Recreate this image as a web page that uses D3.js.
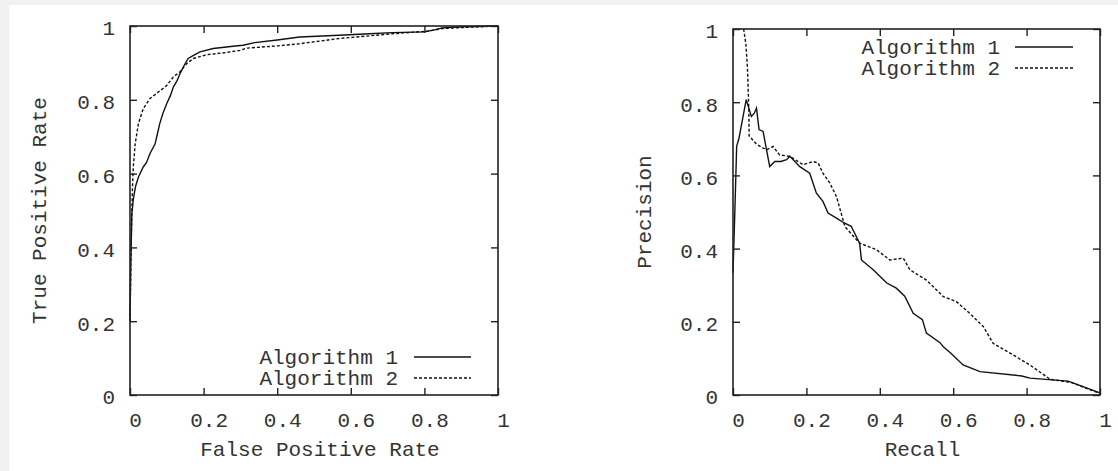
<!DOCTYPE html>
<html><head><meta charset="utf-8">
<script src="https://cdn.jsdelivr.net/npm/d3@7"></script>
<style>
html,body{margin:0;padding:0;background:#f1f1f1;}
svg{display:block;}
text{font-family:"Liberation Mono","DejaVu Sans Mono",monospace;fill:#333;}
</style></head>
<body>
<svg id="chart" width="1118" height="471"></svg>
<script>
// ---- data ----
const seriesNames = ["Algorithm 1", "Algorithm 2"];
const tickValues = [0, 0.2, 0.4, 0.6, 0.8, 1];
const tickLabels = ["0", "0.2", "0.4", "0.6", "0.8", "1"];

// ROC curves: [false positive rate, true positive rate]
const rocAlg1 = [[0,0.2],[0.002,0.35],[0.005,0.49],[0.009,0.53],[0.015,0.565],[0.023,0.591],[0.036,0.618],[0.045,0.63],[0.054,0.654],[0.068,0.68],[0.075,0.71],[0.081,0.736],[0.09,0.765],[0.1,0.79],[0.11,0.812],[0.118,0.835],[0.128,0.852],[0.136,0.871],[0.147,0.893],[0.158,0.912],[0.175,0.922],[0.19,0.93],[0.226,0.939],[0.28,0.945],[0.307,0.948],[0.339,0.955],[0.4,0.962],[0.461,0.97],[0.568,0.975],[0.65,0.979],[0.713,0.982],[0.8,0.984],[0.83,0.99],[0.848,0.995],[0.906,0.998],[1,1]];
const rocAlg2 = [[0,0.2],[0.003,0.4],[0.005,0.5],[0.007,0.57],[0.009,0.618],[0.014,0.68],[0.023,0.736],[0.036,0.776],[0.054,0.803],[0.077,0.821],[0.1,0.839],[0.118,0.862],[0.136,0.876],[0.154,0.898],[0.172,0.912],[0.208,0.922],[0.26,0.928],[0.299,0.934],[0.317,0.94],[0.4,0.946],[0.461,0.952],[0.568,0.966],[0.713,0.979],[0.81,0.986],[0.848,0.993],[0.906,0.996],[1,1]];

// Precision-recall curves: [recall, precision]
const prAlg1 = [[0,0.334],[0.005,0.5],[0.01,0.68],[0.016,0.7],[0.036,0.807],[0.05,0.761],[0.058,0.77],[0.064,0.784],[0.071,0.725],[0.082,0.72],[0.1,0.624],[0.114,0.638],[0.13,0.638],[0.146,0.643],[0.155,0.652],[0.182,0.624],[0.209,0.606],[0.227,0.552],[0.245,0.529],[0.259,0.497],[0.282,0.483],[0.303,0.47],[0.322,0.461],[0.345,0.415],[0.35,0.369],[0.382,0.342],[0.419,0.306],[0.445,0.292],[0.468,0.27],[0.491,0.223],[0.516,0.206],[0.527,0.169],[0.564,0.143],[0.573,0.132],[0.593,0.115],[0.627,0.082],[0.673,0.064],[0.787,0.052],[0.809,0.046],[0.913,0.038],[1,0.006]];
const prAlg2 = [[0.029,1.0],[0.035,0.96],[0.039,0.9],[0.041,0.85],[0.043,0.78],[0.044,0.708],[0.064,0.685],[0.091,0.67],[0.109,0.679],[0.127,0.656],[0.155,0.652],[0.191,0.629],[0.218,0.638],[0.232,0.634],[0.245,0.606],[0.264,0.579],[0.282,0.542],[0.305,0.46],[0.345,0.415],[0.391,0.397],[0.427,0.369],[0.464,0.374],[0.482,0.342],[0.527,0.314],[0.573,0.269],[0.609,0.255],[0.645,0.223],[0.682,0.187],[0.709,0.141],[0.764,0.109],[0.809,0.082],[0.864,0.043],[0.923,0.034],[1,0.004]];

// ---- layout ----
const svg = d3.select("#chart");
svg.append("rect").attr("x",9).attr("y",5).attr("width",1109).attr("height",466).attr("fill","#fff");

const panels = [
  {x0:130, x1:498, y0:395, y1:26, xTitle:"False Positive Rate", yTitle:"True Positive Rate",
   yTitleX:38.5, series:[rocAlg1, rocAlg2], legend:{textX:398, lineX0:414, lineX1:471, y:357}},
  {x0:733, x1:1100, y0:395, y1:29, xTitle:"Recall", yTitle:"Precision",
   yTitleX:644, series:[prAlg1, prAlg2], legend:{textX:1000, lineX0:1015, lineX1:1073, y:47}}
];
const dashes = [null, "3,2"];
const fontSize = 21;

panels.forEach(p => {
  const x = d3.scaleLinear().domain([0,1]).range([p.x0, p.x1]);
  const y = d3.scaleLinear().domain([0,1]).range([p.y0, p.y1]);
  const g = svg.append("g");
  const fmt = (d) => tickLabels[tickValues.indexOf(d)];

  // curves
  const line = d3.line().x(d => x(d[0])).y(d => y(d[1]));
  p.series.forEach((s, i) => {
    g.append("path").datum(s).attr("d", line)
      .attr("fill","none").attr("stroke","#111").attr("stroke-width",1.4)
      .attr("stroke-dasharray", dashes[i]);
  });

  // axes (gnuplot-style inward ticks, mirrored)
  const ax = (gen, tr, labels) => {
    const a = g.append("g").attr("transform", tr)
      .call(gen.tickValues(tickValues).tickSize(-7).tickFormat(labels ? fmt : ""));
    a.select(".domain").remove();
    a.selectAll(".tick line").attr("stroke","#222").attr("stroke-width",1.4);
    a.selectAll(".tick text").attr("font-size", fontSize)
      .attr("font-family","Liberation Mono, monospace").attr("fill","#333");
    return a;
  };
  const bottom = ax(d3.axisBottom(x).tickPadding(17), `translate(0,${p.y0})`, true);
  bottom.selectAll(".tick text").attr("dx", 5);
  const left = ax(d3.axisLeft(y).tickPadding(15), `translate(${p.x0},0)`, true);
  left.selectAll(".tick text").attr("dy", "0.42em");
  ax(d3.axisTop(x), `translate(0,${p.y1})`, false);
  ax(d3.axisRight(y), `translate(${p.x1},0)`, false);

  // frame
  g.append("rect").attr("x", p.x0).attr("y", p.y1)
    .attr("width", p.x1 - p.x0).attr("height", p.y0 - p.y1)
    .attr("fill","none").attr("stroke","#222").attr("stroke-width",1.6);

  // titles
  g.append("text").attr("x", (p.x0+p.x1)/2 + 6).attr("y", 456)
    .attr("text-anchor","middle").attr("font-size", fontSize).text(p.xTitle);
  const cy = (p.y0+p.y1)/2;
  g.append("text").attr("transform", `translate(${p.yTitleX},${cy}) rotate(-90)`)
    .attr("text-anchor","middle").attr("dy","0.35em").attr("font-size", fontSize).text(p.yTitle);

  // legend
  seriesNames.forEach((n, i) => {
    const ly = p.legend.y + i*21;
    g.append("text").attr("x", p.legend.textX).attr("y", ly).attr("dy","0.35em")
      .attr("text-anchor","end").attr("font-size", fontSize).text(n);
    g.append("line").attr("x1", p.legend.lineX0).attr("x2", p.legend.lineX1)
      .attr("y1", ly).attr("y2", ly).attr("stroke","#111").attr("stroke-width",1.4)
      .attr("stroke-dasharray", dashes[i]);
  });
});
</script>
</body></html>
